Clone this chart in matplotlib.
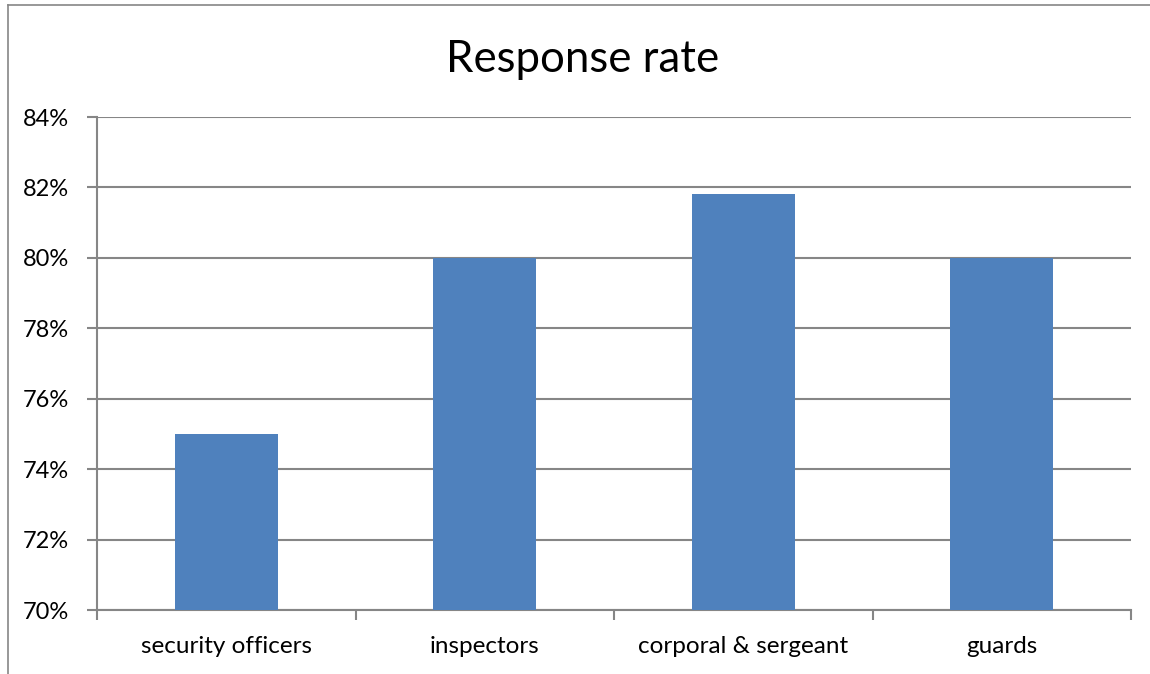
import matplotlib.pyplot as plt
from matplotlib.lines import Line2D
from matplotlib.ticker import FixedLocator, FuncFormatter

plt.rcParams['font.family'] = ['Lato', 'DejaVu Sans']

groups = ['security officers', 'inspectors', 'corporal & sergeant', 'guards']
rates = [75.0, 80.0, 81.8, 80.0]
y_ticks = [70, 72, 74, 76, 78, 80, 82, 84]

grey = '#868686'
bar_blue = '#4F81BD'

fig = plt.figure(figsize=(11.5, 6.74), dpi=100)
ax = fig.add_axes([97 / 1150, 1 - 610 / 674, (1131 - 97) / 1150, (610 - 117) / 674])

x = range(len(groups))
ax.bar(x, rates, width=0.4, color=bar_blue, zorder=3)

ax.set_ylim(70, 84)
ax.set_xlim(-0.5, len(groups) - 0.5)
ax.set_yticks(y_ticks)
ax.yaxis.set_major_formatter(FuncFormatter(lambda v, p: f'{v:.0f}%'))
ax.grid(axis='y', color=grey, linewidth=1.5, zorder=0)

ax.set_xticks(list(x))
ax.set_xticklabels(groups)
ax.xaxis.set_minor_locator(FixedLocator([i - 0.5 for i in range(len(groups) + 1)]))
ax.tick_params(axis='x', which='major', length=0, pad=19, labelsize=17.5, colors='black')
ax.tick_params(axis='x', which='minor', length=7, width=1.5, color=grey, direction='out')
ax.tick_params(axis='y', length=7, width=1.5, color=grey, direction='out', pad=13, labelsize=17)

for side in ['top', 'right']:
    ax.spines[side].set_visible(False)
for side in ['left', 'bottom']:
    ax.spines[side].set_color(grey)
    ax.spines[side].set_linewidth(1.5)

fig.text(0.507, 1 - 59 / 674, 'Response rate', ha='center', va='center', fontsize=31.5)

# chart area border (top and left edges)
fig.add_artist(Line2D([8 / 1150, 1], [1 - 5 / 674, 1 - 5 / 674], color=grey, linewidth=1.2))
fig.add_artist(Line2D([8 / 1150, 8 / 1150], [0, 1 - 5 / 674], color=grey, linewidth=1.2))

fig.savefig('out.png', dpi=100, facecolor='white')
